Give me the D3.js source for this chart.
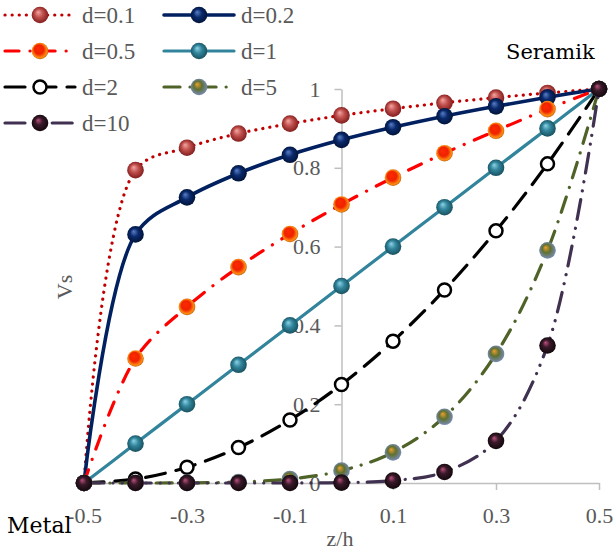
<!DOCTYPE html>
<html><head><meta charset="utf-8">
<script src="https://cdn.jsdelivr.net/npm/d3@7"></script>
<style>
html,body{margin:0;padding:0;background:#fff;}
svg{display:block;}
svg text{font-family:"Liberation Serif","Times New Roman",serif;}
svg text.endlab{font-family:"DejaVu Serif",serif;}
</style></head>
<body>
<svg id="chart" width="614" height="550"></svg>
<script>
// ---- data ----
const zValues = [-0.5, -0.4, -0.3, -0.2, -0.1, 0, 0.1, 0.2, 0.3, 0.4, 0.5];
const seriesNames = ["d=0.1", "d=0.2", "d=0.5", "d=1", "d=2", "d=5", "d=10"];
const vD01 = [0, 0.794, 0.851, 0.887, 0.912, 0.933, 0.950, 0.965, 0.978, 0.990, 1];
const vD02 = [0, 0.631, 0.725, 0.786, 0.833, 0.871, 0.903, 0.931, 0.956, 0.979, 1];
const vD05 = [0, 0.316, 0.447, 0.548, 0.632, 0.707, 0.775, 0.837, 0.894, 0.949, 1];
const vD1  = [0, 0.1, 0.2, 0.3, 0.4, 0.5, 0.6, 0.7, 0.8, 0.9, 1];
const vD2  = [0, 0.01, 0.04, 0.09, 0.16, 0.25, 0.36, 0.49, 0.64, 0.81, 1];
const vD5  = [0, 0.0000, 0.0003, 0.0024, 0.0102, 0.0313, 0.0778, 0.1681, 0.3277, 0.5905, 1];
const vD10 = [0, 0, 0, 0, 0.0001, 0.001, 0.006, 0.028, 0.107, 0.349, 1];
const xTicks = [-0.5, -0.3, -0.1, 0.1, 0.3, 0.5];
const xTickLabels = ["-0.5", "-0.3", "-0.1", "0.1", "0.3", "0.5"];
const yTicks = [0, 0.2, 0.4, 0.6, 0.8, 1];
const yTickLabels = ["0", "0.2", "0.4", "0.6", "0.8", "1"];

const allValues = [vD01, vD02, vD05, vD1, vD2, vD5, vD10];

const styles = [
  {color:"#C00000", width:3.2, dash:"0.1 7", cap:"round", grad:"g01"},
  {color:"#002060", width:3.6, dash:null, cap:"round", grad:"g02"},
  {color:"#FF0000", width:3.2, dash:"14 11 0.1 11", cap:"round", grad:"g05"},
  {color:"#31849B", width:3.2, dash:null, cap:"round", grad:"g1"},
  {color:"#000000", width:3.2, dash:"20 11", cap:"round", grad:null},
  {color:"#4F6228", width:3.2, dash:"16 10 0.1 10", cap:"round", grad:"g5"},
  {color:"#403151", width:3.2, dash:"20 9 0.1 9 0.1 9", cap:"round", grad:"g10"}
];

const svg = d3.select("#chart");
const defs = svg.append("defs");
function sphere(id, stops){
  const g = defs.append("radialGradient").attr("id", id)
    .attr("cx","50%").attr("cy","50%").attr("r","55%").attr("fx","38%").attr("fy","32%");
  stops.forEach(s => g.append("stop").attr("offset", s[0]).attr("stop-color", s[1]));
}
sphere("g01", [[0,"#f4a6a4"],[0.45,"#c0504d"],[1,"#7a1616"]]);
sphere("g02", [[0,"#5b7fc4"],[0.45,"#0a2a6e"],[1,"#001030"]]);
sphere("g05", [[0,"#ff2a00"],[0.5,"#ee2200"],[0.8,"#ff8a10"],[1,"#a05010"]]);
sphere("g1",  [[0,"#8ed3e6"],[0.45,"#31859c"],[1,"#164a58"]]);
sphere("g5",  [[0,"#f0a030"],[0.45,"#5f7030"],[1,"#7a8fc8"]]);
sphere("g10", [[0,"#c05080"],[0.4,"#3a1a2a"],[1,"#0d0508"]]);

const x = d3.scaleLinear().domain([-0.5, 0.5]).range([84, 599]);
const y = d3.scaleLinear().domain([0, 1]).range([483, 89]);

const axisColor = "#BFBFBF";
const textColor = "#595959";

// horizontal axis at y=0
const xAxis = d3.axisBottom(x).tickValues(xTicks).tickFormat((d,i)=>xTickLabels[i]).tickSize(7).tickSizeOuter(0);
const gx = svg.append("g").attr("transform", `translate(0,${y(0)})`).call(xAxis);
gx.attr("font-family", null);
gx.select(".domain").attr("stroke", axisColor).attr("stroke-width", 1.5);
gx.selectAll(".tick line").attr("stroke", axisColor).attr("stroke-width", 1.5);
gx.selectAll(".tick text").attr("fill", textColor).attr("font-size", 22).attr("y", 24);

// vertical axis at x=0
const yAxis = d3.axisLeft(y).tickValues(yTicks).tickFormat((d,i)=>yTickLabels[i]).tickSize(7).tickSizeOuter(0);
const gy = svg.append("g").attr("transform", `translate(${x(0)},0)`).call(yAxis);
gy.attr("font-family", null);
gy.select(".domain").attr("stroke", axisColor).attr("stroke-width", 1.5);
gy.selectAll(".tick line").attr("stroke", axisColor).attr("stroke-width", 1.5);
gy.selectAll(".tick text").attr("fill", textColor).attr("font-size", 22).attr("x", -21);

// lines
const line = d3.line().x((d,i)=>x(zValues[i])).y(d=>y(d)).curve(d3.curveCatmullRom.alpha(0.5));
const plot = svg.append("g");
allValues.forEach((vals, si) => {
  const st = styles[si];
  const p = plot.append("path").datum(vals).attr("d", line)
    .attr("fill","none").attr("stroke", st.color).attr("stroke-width", st.width)
    .attr("stroke-linecap", st.cap).attr("stroke-linejoin","round");
  if (st.dash) p.attr("stroke-dasharray", st.dash);
});
allValues.forEach((vals, si) => {
  const st = styles[si];
  const m = plot.append("g").selectAll("circle").data(vals).join("circle")
    .attr("cx",(d,i)=>x(zValues[i])).attr("cy", d=>y(d));
  if (st.grad) m.attr("r", 8.3).attr("fill", `url(#${st.grad})`);
  else m.attr("r", 6.5).attr("fill", "#fff").attr("stroke", "#000").attr("stroke-width", 2.5);
});

// legend
const legendPos = [[5,15],[164,15],[5,51],[164,51],[5,87],[164,87],[5,123]];
const lg = svg.append("g");
seriesNames.forEach((name, si) => {
  const st = styles[si];
  const [lx, ly] = legendPos[si];
  const l = lg.append("line").attr("x1", lx).attr("x2", lx+70).attr("y1", ly).attr("y2", ly)
    .attr("stroke", st.color).attr("stroke-width", st.width).attr("stroke-linecap", st.cap);
  if (st.dash) l.attr("stroke-dasharray", st.dash);
  const c = lg.append("circle").attr("cx", lx+35).attr("cy", ly);
  if (st.grad) c.attr("r", 8.3).attr("fill", `url(#${st.grad})`);
  else c.attr("r", 6.5).attr("fill", "#fff").attr("stroke", "#000").attr("stroke-width", 2.5);
  lg.append("text").attr("x", lx+77).attr("y", ly).attr("dy", "0.35em")
    .attr("fill", textColor).attr("font-size", 23).text(name);
});

// axis titles
svg.append("text").attr("transform", `translate(64,287) rotate(-90)`).attr("text-anchor","middle")
  .attr("dy","0.35em").attr("fill", textColor).attr("font-size", 22).text("Vs");
svg.append("text").attr("x", 340).attr("y", 538).attr("text-anchor","middle").attr("dy","0.35em")
  .attr("fill", textColor).attr("font-size", 22).text("z/h");

// end labels
svg.append("text").attr("class","endlab").attr("x", 7).attr("y", 525).attr("dy","0.35em")
  .attr("fill", "#000").attr("font-size", 22).text("Metal");
svg.append("text").attr("class","endlab").attr("x", 506).attr("y", 52).attr("dy","0.35em")
  .attr("fill", "#000").attr("font-size", 21).text("Seramik");
</script>
</body></html>
